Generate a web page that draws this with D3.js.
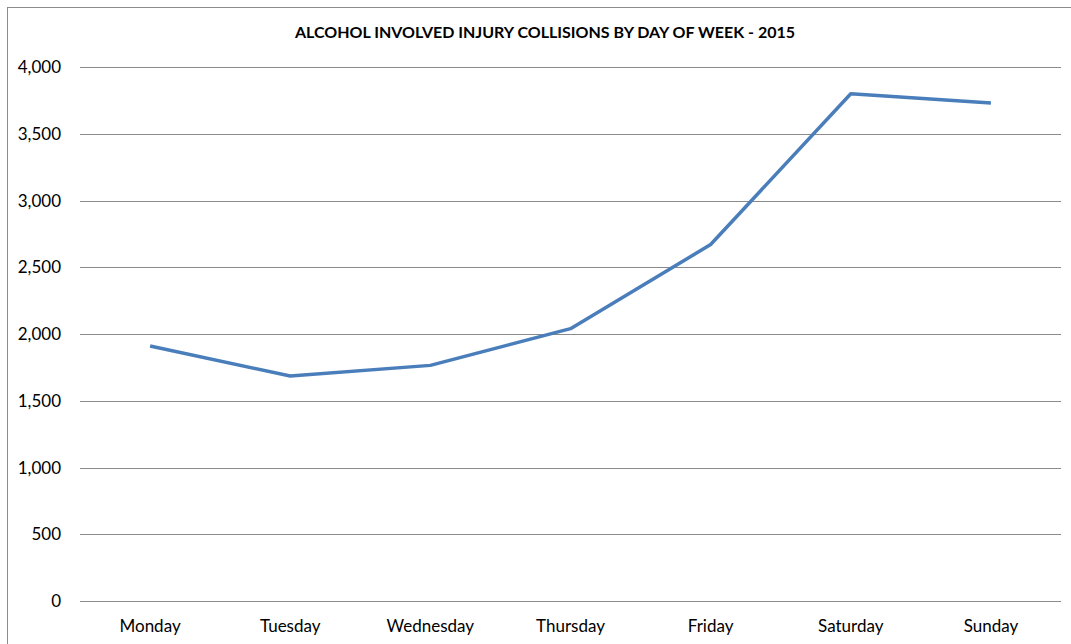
<!DOCTYPE html>
<html>
<head>
<meta charset="utf-8">
<script src="https://cdn.jsdelivr.net/npm/d3@7"></script>
<style>
  body { margin: 0; background: #fff; }
  text { font-family: Lato, "Open Sans", sans-serif; }
</style>
</head>
<body>
<svg width="1071" height="644"></svg>
<script>
var days = ["Monday", "Tuesday", "Wednesday", "Thursday", "Friday", "Saturday", "Sunday"];
var collisions = [1910, 1685, 1765, 2040, 2670, 3800, 3730];
var yTicks = [0, 500, 1000, 1500, 2000, 2500, 3000, 3500, 4000];
var title = "ALCOHOL INVOLVED INJURY COLLISIONS BY DAY OF WEEK - 2015";

var svg = d3.select("svg");
var plotLeft = 80, plotRight = 1061, plotTop = 67, plotBottom = 601;

// chart frame (right and bottom edges run off the page)
svg.append("rect").attr("x", 7.5).attr("y", 7.5)
  .attr("width", 1100).attr("height", 700)
  .attr("fill", "none").attr("stroke", "#8c8c8c");

var x = d3.scaleBand().domain(days).range([plotLeft, plotRight]);
var y = d3.scaleLinear().domain([0, 4000]).range([plotBottom, plotTop]);

// gridlines
svg.append("g").selectAll("line").data(yTicks).enter().append("line")
  .attr("x1", plotLeft).attr("x2", plotRight)
  .attr("y1", function (d) { return Math.round(y(d)) + 0.5; })
  .attr("y2", function (d) { return Math.round(y(d)) + 0.5; })
  .attr("stroke", "#8a8a8a").attr("stroke-width", 1);

// y labels
svg.append("g").selectAll("text").data(yTicks).enter().append("text")
  .attr("x", 61).attr("y", function (d) { return y(d) + 6; })
  .attr("text-anchor", "end").attr("font-size", 17).attr("fill", "#000")
  .text(d3.format(","));

// x labels
svg.append("g").selectAll("text").data(days).enter().append("text")
  .attr("x", function (d) { return x(d) + x.bandwidth() / 2; })
  .attr("y", 632).attr("text-anchor", "middle")
  .attr("font-size", 17).attr("fill", "#000")
  .text(function (d) { return d; });

// title
svg.append("text").attr("x", 545).attr("y", 38)
  .attr("text-anchor", "middle").attr("font-size", 16)
  .attr("font-weight", "bold").attr("fill", "#000")
  .text(title);

// line
var line = d3.line()
  .x(function (d, i) { return x(days[i]) + x.bandwidth() / 2; })
  .y(function (d) { return y(d); });

svg.append("path").datum(collisions)
  .attr("d", line).attr("fill", "none")
  .attr("stroke", "#4a7ebb").attr("stroke-width", 3.5)
  .attr("stroke-linejoin", "round");
</script>
</body>
</html>
